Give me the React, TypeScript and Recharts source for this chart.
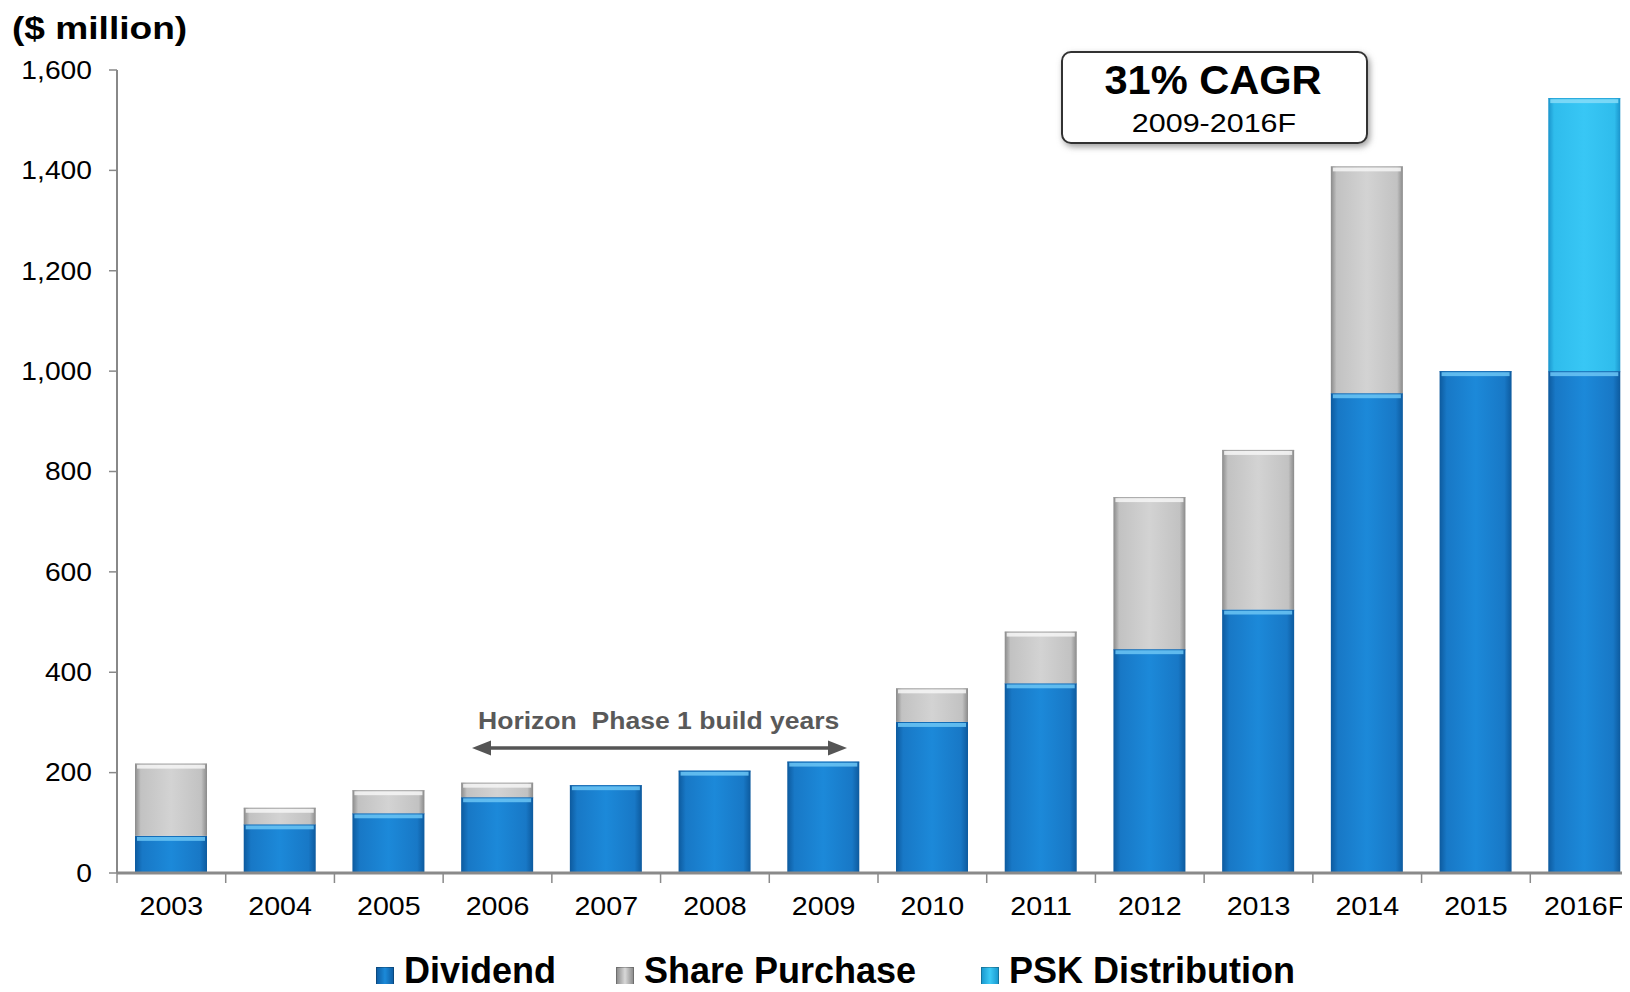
import React from 'react';
import { BarChart, Bar, XAxis, YAxis, Legend } from 'recharts';

const years = ['2003', '2004', '2005', '2006', '2007', '2008', '2009', '2010', '2011', '2012', '2013', '2014', '2015', '2016F'];
const dividend = [74, 97, 119, 151, 175, 204, 222, 301, 378, 446, 525, 956, 1000, 1000];
const sharePurchase = [144, 33, 46, 29, 0, 0, 0, 67, 103, 303, 318, 452, 0, 0];
const pskDistribution = [0, 0, 0, 0, 0, 0, 0, 0, 0, 0, 0, 0, 0, 544];
const yTicks = [0, 200, 400, 600, 800, 1000, 1200, 1400, 1600];
const seriesNames = ['Dividend', 'Share Purchase', 'PSK Distribution'];

const data = years.map((year, i) => ({
  year,
  dividend: dividend[i],
  sharePurchase: sharePurchase[i],
  pskDistribution: pskDistribution[i],
}));

const FONT = '"Liberation Sans", Arial, Helvetica, sans-serif';
const CHART_W = 1650;
const CHART_H = 992;
const Y_AXIS_W = 117;
const MARGIN = { top: 70, right: 11, bottom: 59, left: 0 };
const BAND = (CHART_W - Y_AXIS_W - MARGIN.left - MARGIN.right) / years.length;
const X_TICK_SIZE = 10;
const X_TICK_MARGIN = 14;

const makeShape = (gradId: string, topColor: string, topLine: string) => (props: any) => {
  const { x, y, width, height } = props;
  if (!height || height <= 0.5) return null;
  return (
    <g>
      <rect x={x} y={y} width={width} height={height} fill={`url(#${gradId})`} />
      <rect x={x + 2} y={y + 1} width={Math.max(0, width - 4)} height={Math.min(4, height)} fill={topColor} opacity={0.85} />
      <rect x={x} y={y} width={width} height={Math.min(1, height)} fill={topLine} opacity={0.7} />
    </g>
  );
};

const dividendShape = makeShape('gDiv', '#6cc6f4', '#0e5fa6');
const shareShape = makeShape('gShare', '#f6f6f6', '#9a9a9a');
const pskShape = makeShape('gPsk', '#86dcf8', '#1a9ad0');

const YTick = (props: any) => {
  const { x, y, payload } = props;
  return (
    <g transform={`translate(${x},${y}) scale(1.13,1)`}>
      <text x={0} y={0} dy="0.35em" textAnchor="end" fontSize={25} fill="#000" fontFamily={FONT}>
        {Number(payload.value).toLocaleString('en-US')}
      </text>
    </g>
  );
};

const XTick = (props: any) => {
  const { x, y, payload } = props;
  const axisY = y - X_TICK_SIZE - X_TICK_MARGIN;
  const bx = x - BAND / 2;
  return (
    <g>
      <line x1={bx} x2={bx} y1={axisY} y2={axisY + X_TICK_SIZE} stroke="#8a8a8a" strokeWidth={1.5} />
      <g transform={`translate(${x},${y}) scale(1.1,1)`}>
        <text x={0} y={0} dy="0.71em" textAnchor="middle" fontSize={26} fill="#000" fontFamily={FONT}>
          {payload.value}
        </text>
      </g>
    </g>
  );
};

const markerBgs = [
  'linear-gradient(to right, #0e5fa6, #1b8ad9 50%, #0e5fa6)',
  'linear-gradient(to right, #8e8e8e, #d8d8d8 50%, #8e8e8e)',
  'linear-gradient(to right, #1a9ad0, #3ccaf6 50%, #1a9ad0)',
];
const legendLefts = [376, 616, 981];

const LegendContent = () => (
  <div style={{ position: 'relative', height: 36, width: 1630 }}>
    {seriesNames.map((name, i) => (
      <div key={name} style={{ position: 'absolute', left: legendLefts[i], top: 0, display: 'flex', alignItems: 'flex-start' }}>
        <div style={{ width: 18, height: 18, marginTop: 14, background: markerBgs[i], marginRight: 10, boxSizing: 'border-box', border: '1px solid rgba(0,0,0,0.25)' }} />
        <span style={{ fontFamily: FONT, fontWeight: 700, fontSize: 36, lineHeight: '36px', color: '#000', whiteSpace: 'nowrap' }}>{name}</span>
      </div>
    ))}
  </div>
);

export default function App() {
  return (
    <div style={{ margin: -8, width: 1630, height: 992, overflow: 'hidden', position: 'relative', background: '#fff', fontFamily: FONT }}>
      <BarChart width={CHART_W} height={CHART_H} data={data} margin={MARGIN}>
        <defs>
          <linearGradient id="gDiv" x1="0" y1="0" x2="1" y2="0">
            <stop offset="0%" stopColor="#0d5a9e" />
            <stop offset="10%" stopColor="#1878c6" />
            <stop offset="50%" stopColor="#1c89d9" />
            <stop offset="90%" stopColor="#1878c6" />
            <stop offset="100%" stopColor="#0d5a9e" />
          </linearGradient>
          <linearGradient id="gShare" x1="0" y1="0" x2="1" y2="0">
            <stop offset="0%" stopColor="#8a8a8a" />
            <stop offset="8%" stopColor="#c2c2c2" />
            <stop offset="50%" stopColor="#d3d3d3" />
            <stop offset="92%" stopColor="#c2c2c2" />
            <stop offset="100%" stopColor="#8a8a8a" />
          </linearGradient>
          <linearGradient id="gPsk" x1="0" y1="0" x2="1" y2="0">
            <stop offset="0%" stopColor="#1a94cc" />
            <stop offset="8%" stopColor="#2fbcec" />
            <stop offset="50%" stopColor="#38c7f5" />
            <stop offset="92%" stopColor="#2fbcec" />
            <stop offset="100%" stopColor="#1a94cc" />
          </linearGradient>
        </defs>
        <XAxis
          dataKey="year"
          height={60}
          tickLine={false}
          tickSize={X_TICK_SIZE}
          tickMargin={X_TICK_MARGIN}
          axisLine={{ stroke: '#8a8a8a', strokeWidth: 3 }}
          tick={<XTick />}
          interval={0}
        />
        <YAxis
          width={Y_AXIS_W}
          domain={[0, 1600]}
          ticks={yTicks}
          interval={0}
          tickSize={8}
          tickMargin={17}
          axisLine={{ stroke: '#888', strokeWidth: 2 }}
          tickLine={{ stroke: '#888', strokeWidth: 1.5 }}
          tick={<YTick />}
        />
        <Legend
          layout="horizontal"
          verticalAlign="middle"
          align="center"
          content={<LegendContent />}
          wrapperStyle={{ top: 953, left: 0, width: 1630, height: 36 }}
        />
        <Bar dataKey="dividend" name={seriesNames[0]} stackId="a" barSize={72} shape={dividendShape} isAnimationActive={false} />
        <Bar dataKey="sharePurchase" name={seriesNames[1]} stackId="a" barSize={72} shape={shareShape} isAnimationActive={false} />
        <Bar dataKey="pskDistribution" name={seriesNames[2]} stackId="a" barSize={72} shape={pskShape} isAnimationActive={false} />
      </BarChart>
      <svg width={1630} height={992} style={{ position: 'absolute', left: 0, top: 0, pointerEvents: 'none' }}>
        <defs>
          <filter id="boxShadow" x="-10%" y="-20%" width="130%" height="150%">
            <feDropShadow dx="2" dy="3" stdDeviation="3" floodColor="#777" floodOpacity="0.7" />
          </filter>
        </defs>
        <g transform="translate(12,39) scale(1.16,1)">
          <text x={0} y={0} fontSize={32} fontWeight={700} fill="#000" fontFamily={FONT}>($ million)</text>
        </g>
        <rect x={1062} y={52} width={305} height={91} rx={9} ry={9} fill="#fff" stroke="#333" strokeWidth={2} filter="url(#boxShadow)" />
        <g transform="translate(1213,94) scale(1.04,1)">
          <text x={0} y={0} textAnchor="middle" fontSize={40} fontWeight={700} fill="#000" fontFamily={FONT}>31% CAGR</text>
        </g>
        <g transform="translate(1214,132) scale(1.15,1)">
          <text x={0} y={0} textAnchor="middle" fontSize={26.5} fill="#000" fontFamily={FONT}>2009-2016F</text>
        </g>
        <g transform="translate(478,729) scale(1.13,1)">
          <text x={0} y={0} fontSize={23.5} fontWeight={700} fill="#595959" fontFamily={FONT} style={{ whiteSpace: 'pre' }} xmlSpace="preserve">Horizon  Phase 1 build years</text>
        </g>
        <line x1={486} x2={833} y1={748} y2={748} stroke="#555" strokeWidth={3.5} />
        <polygon points="472,748 491,740.5 491,755.5" fill="#555" />
        <polygon points="847,748 828,740.5 828,755.5" fill="#555" />
      </svg>
    </div>
  );
}
